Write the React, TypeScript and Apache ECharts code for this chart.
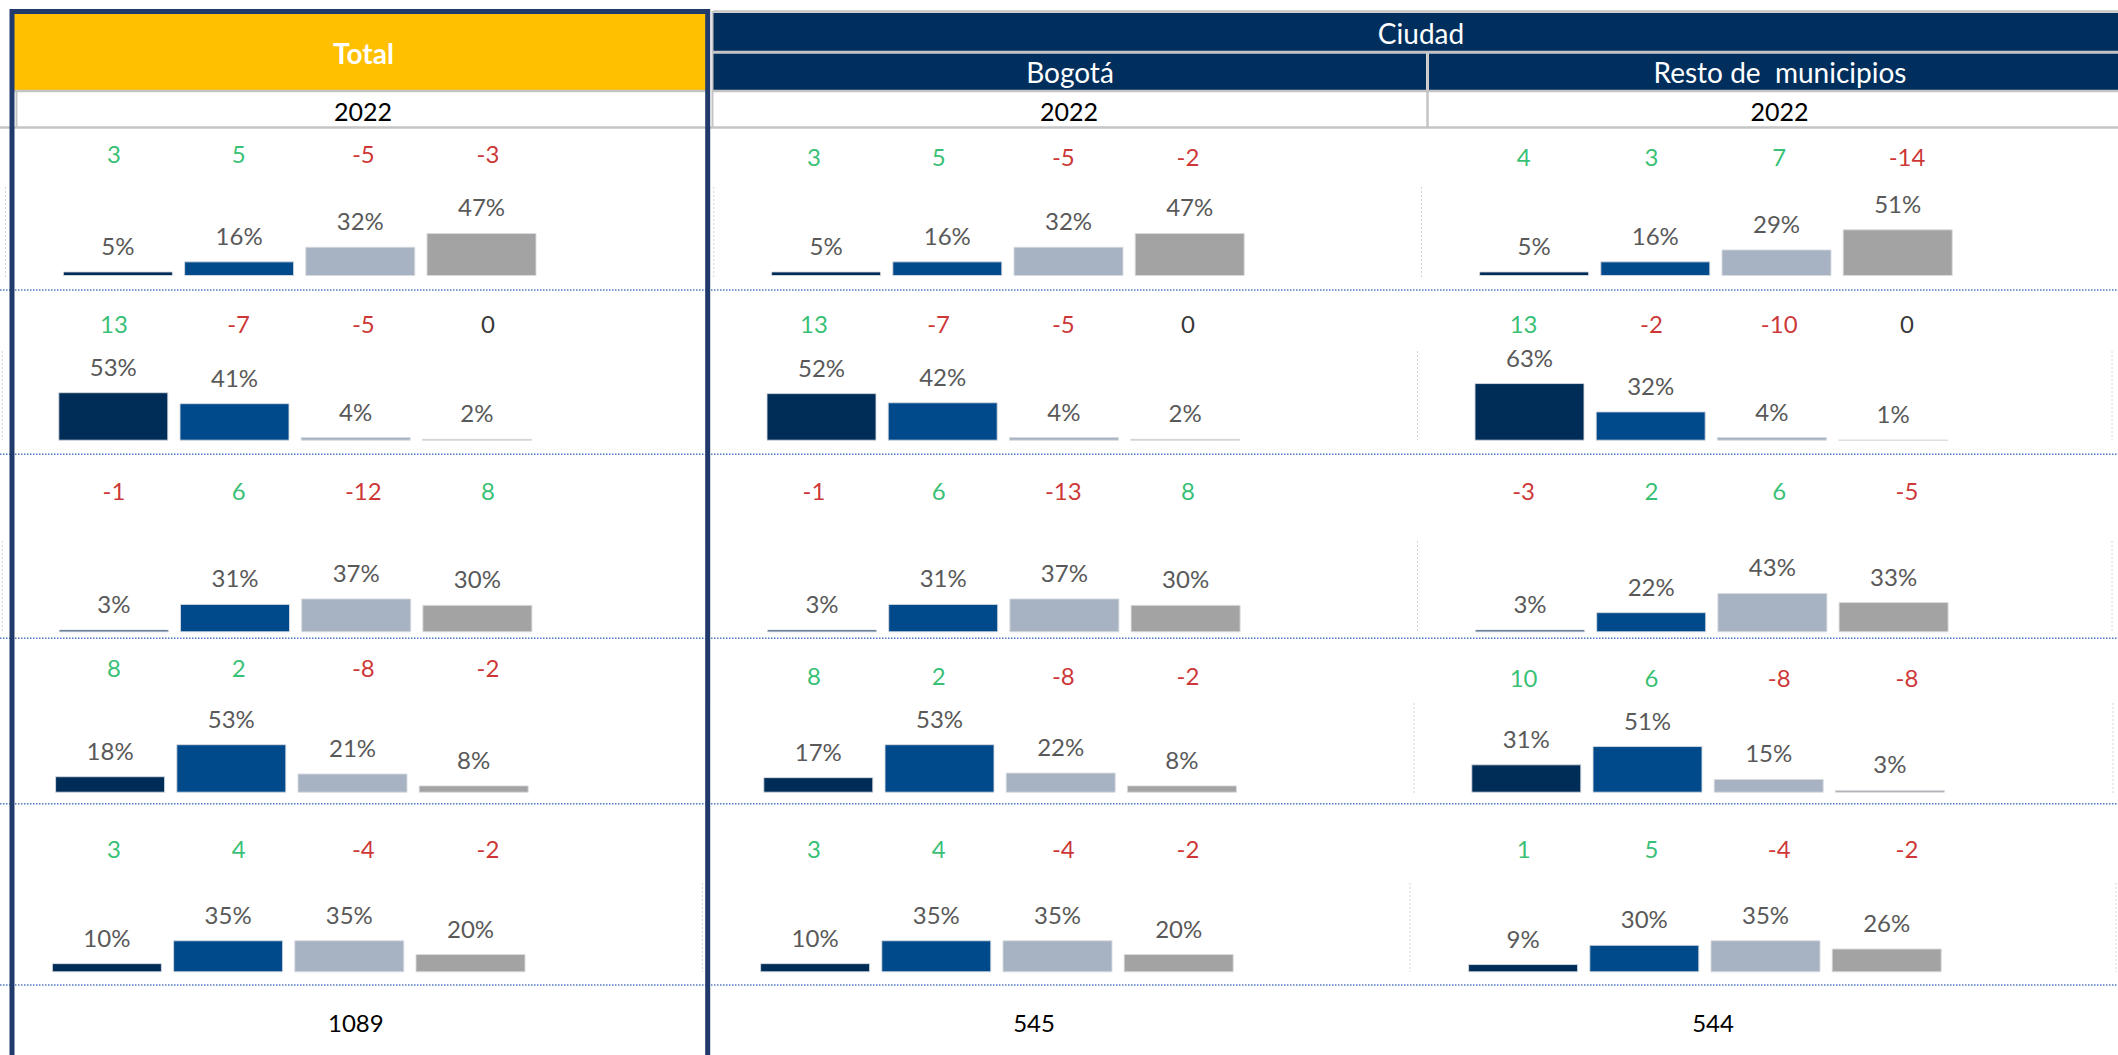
import React, { useEffect, useRef } from "react";
import * as echarts from "echarts";

// ---------- data ----------
const categories = ["1", "2", "3", "4"];
const yearLabel = "2022";
const groupTitle = "Ciudad";
const panelTitles = ["Total", "Bogotá", "Resto de  municipios"];

const totalShares = [
  [5, 16, 32, 47],
  [53, 41, 4, 2],
  [3, 31, 37, 30],
  [18, 53, 21, 8],
  [10, 35, 35, 20],
];
const totalChanges = [
  [3, 5, -5, -3],
  [13, -7, -5, 0],
  [-1, 6, -12, 8],
  [8, 2, -8, -2],
  [3, 4, -4, -2],
];
const bogotaShares = [
  [5, 16, 32, 47],
  [52, 42, 4, 2],
  [3, 31, 37, 30],
  [17, 53, 22, 8],
  [10, 35, 35, 20],
];
const bogotaChanges = [
  [3, 5, -5, -2],
  [13, -7, -5, 0],
  [-1, 6, -13, 8],
  [8, 2, -8, -2],
  [3, 4, -4, -2],
];
const restoShares = [
  [5, 16, 29, 51],
  [63, 32, 4, 1],
  [3, 22, 43, 33],
  [31, 51, 15, 3],
  [9, 30, 35, 26],
];
const restoChanges = [
  [4, 3, 7, -14],
  [13, -2, -10, 0],
  [-3, 2, 6, -5],
  [10, 6, -8, -8],
  [1, 5, -4, -2],
];
const sampleSizes = [1089, 545, 544];

// ---------- styles & layout ----------
const FONT = "Lato, 'Open Sans', 'DejaVu Sans', sans-serif";
const BAR_COLORS = ["#002C58", "#004A8C", "#A7B2C2", "#A3A3A3"];
const GREEN = "#00B050";
const RED = "#C00000";
const NAVY = "#002F5E";
const YELLOW = "#FFC000";
const GRAYLINE = "#C4C4C4";

const PANEL_X = [0, 708.2, 1416.2];
const ROW_BAR_LEFT = [62.9, 58.3, 58.8, 55.1, 51.9];
const ROW_BASE = [276, 440.7, 632.3, 792.7, 972.3];
const CHANGE_Y = [
  [153.3, 156.7, 156.7],
  [323.3, 323.3, 323.3],
  [490, 490, 490],
  [667.7, 675.7, 677.7],
  [848.3, 848.3, 848.3],
];
const CHANGE_X0 = [113.9, 813.9, 1523.6];
const CHANGE_PITCH = [124.7, 124.7, 127.8];
const BAR_PITCH = 121.2;
const BAR_W = 110;
const PX_PER_PCT = 0.915;
const SEP_Y = [290, 454.3, 638.3, 803.7, 985];
const TOTAL_X = [355.8, 1034, 1713];
const TOTAL_Y = 1022.7;
const FAINT_LINES: [number, number, number][] = [
  [5.5, 187, 277], [713.8, 187, 277], [1421.5, 187, 277],
  [2.3, 351, 440], [709.6, 351, 440], [1417.5, 351, 440], [2112, 351, 440],
  [2.3, 541, 632], [709.6, 541, 632], [1417.5, 541, 632], [2112, 541, 632],
  [706, 703, 793], [1414, 703, 793], [2113, 703, 793],
  [702.4, 883, 972], [1410, 883, 972], [2116, 883, 972],
];

function buildOption() {
  const shares = [totalShares, bogotaShares, restoShares];
  const changes = [totalChanges, bogotaChanges, restoChanges];
  const grid: any[] = [];
  const xAxis: any[] = [];
  const yAxis: any[] = [];
  const series: any[] = [];

  for (let p = 0; p < 3; p++) {
    for (let r = 0; r < 5; r++) {
      // bar grid
      const gi = grid.length;
      const h = 100 * PX_PER_PCT;
      grid.push({
        left: PANEL_X[p] + ROW_BAR_LEFT[r] - (BAR_PITCH - BAR_W) / 2,
        top: ROW_BASE[r] - h,
        width: 4 * BAR_PITCH,
        height: h,
        containLabel: false,
      });
      xAxis.push({ gridIndex: gi, type: "category", data: categories, show: false });
      yAxis.push({ gridIndex: gi, type: "value", min: 0, max: 100, show: false });
      series.push({
        type: "bar",
        xAxisIndex: gi,
        yAxisIndex: gi,
        barWidth: BAR_W,
        silent: true,
        data: shares[p][r].map((v, i) => ({
          value: v,
          itemStyle: { color: BAR_COLORS[i], borderColor: "rgba(215,218,224,0.9)", borderWidth: 1 },
        })),
        label: {
          show: true,
          position: "top",
          distance: 14,
          formatter: "{c}%",
          color: "#595959",
          fontSize: 24,
          fontFamily: FONT,
        },
      });

      // change labels grid
      const gj = grid.length;
      const vals = changes[p][r];
      grid.push({
        left: CHANGE_X0[p] - CHANGE_PITCH[p] / 2,
        top: CHANGE_Y[r][p] - 10,
        width: 4 * CHANGE_PITCH[p],
        height: 20,
      });
      xAxis.push({ gridIndex: gj, type: "category", data: categories, show: false });
      yAxis.push({ gridIndex: gj, type: "value", min: -1, max: 1, show: false });
      series.push({
        type: "scatter",
        xAxisIndex: gj,
        yAxisIndex: gj,
        symbolSize: 1,
        silent: true,
        itemStyle: { color: "rgba(0,0,0,0)" },
        data: vals.map((v, i) => ({
          value: [i, 0],
          label: { color: v > 0 ? GREEN : v < 0 ? RED : "#000000" },
        })),
        label: {
          show: true,
          position: "inside",
          formatter: (pp: any) => String(vals[pp.dataIndex]),
          fontSize: 24,
          fontFamily: FONT,
        },
      });
    }
  }

  const text = (t: string, x: number, y: number, size: number, fill: string, weight: string = "normal") => ({
    type: "text",
    x,
    y,
    z: 20,
    silent: true,
    style: {
      text: t,
      fill,
      fontSize: size,
      fontFamily: FONT,
      fontWeight: weight,
      textAlign: "center",
      textVerticalAlign: "middle",
      align: "center",
      verticalAlign: "middle",
    },
  });
  const line = (x1: number, y1: number, x2: number, y2: number, stroke: string, lw: number, dash?: number[], z = 5) => ({
    type: "line",
    z,
    silent: true,
    shape: { x1, y1, x2, y2 },
    style: { stroke, lineWidth: lw, lineDash: dash },
  });
  const rect = (x: number, y: number, w: number, h: number, fill: string, z = 4) => ({
    type: "rect",
    z,
    silent: true,
    shape: { x, y, width: w, height: h },
    style: { fill },
  });

  const graphic: any[] = [];
  // faint chart-area edges
  FAINT_LINES.forEach(([x, y1, y2]) => graphic.push(line(x, y1, x, y2, "#D6D6D6", 1, [2, 2], 1)));
  // row separators
  SEP_Y.forEach((y) => graphic.push(line(0, y, 2118, y, "#4F78C8", 1.5, [1.5, 1.5], 3)));

  // Total header
  graphic.push(rect(14, 14, 692, 77, YELLOW));
  graphic.push(line(14, 91, 706, 91, GRAYLINE, 2.5));
  graphic.push(line(16.5, 91, 16.5, 128, GRAYLINE, 2));
  graphic.push(line(0, 127.5, 2118, 127.5, GRAYLINE, 2.5));
  graphic.push(text(panelTitles[0], 363.5, 53, 28, "#FFFFFF", "bold"));
  graphic.push(text(yearLabel, 363, 110.5, 25, "#000000"));

  // Ciudad header
  graphic.push(line(713, 11.5, 2118, 11.5, GRAYLINE, 2.5));
  graphic.push(rect(713, 13, 1405, 38, NAVY));
  graphic.push(line(713, 52, 2118, 52, GRAYLINE, 2.5));
  graphic.push(rect(713, 53.5, 713, 37, NAVY));
  graphic.push(rect(1429, 53.5, 689, 37, NAVY));
  graphic.push(line(713, 91, 2118, 91, GRAYLINE, 2.5));
  graphic.push(line(712.5, 11, 712.5, 128, GRAYLINE, 2));
  graphic.push(line(1427.5, 51, 1427.5, 128, GRAYLINE, 2.5));
  graphic.push(text(groupTitle, 1421, 33, 28, "#FFFFFF"));
  graphic.push(text(panelTitles[1], 1070, 71.5, 28, "#FFFFFF"));
  graphic.push(text(panelTitles[2], 1780, 71.5, 28, "#FFFFFF"));
  graphic.push(text(yearLabel, 1069, 110.5, 25, "#000000"));
  graphic.push(text(yearLabel, 1779.6, 110.5, 25, "#000000"));

  // sample sizes
  sampleSizes.forEach((n, i) => graphic.push(text(String(n), TOTAL_X[i], TOTAL_Y, 24, "#000000")));

  // Total border
  graphic.push({
    type: "rect",
    z: 30,
    silent: true,
    shape: { x: 12, y: 11.6, width: 695.7, height: 1070 },
    style: { fill: "none", stroke: "#1F3A6B", lineWidth: 5 },
  });

  return {
    animation: false,
    backgroundColor: "#FFFFFF",
    grid,
    xAxis,
    yAxis,
    series,
    graphic: { elements: graphic },
  };
}

export default function App() {
  const ref = useRef<HTMLDivElement>(null);
  useEffect(() => {
    if (!ref.current) return;
    const chart = echarts.init(ref.current, undefined, { renderer: "svg" });
    chart.setOption(buildOption() as any);
    return () => chart.dispose();
  }, []);
  return (
    <div
      ref={ref}
      style={{ position: "fixed", left: 0, top: 0, width: 2118, height: 1055, background: "#FFFFFF" }}
    />
  );
}
